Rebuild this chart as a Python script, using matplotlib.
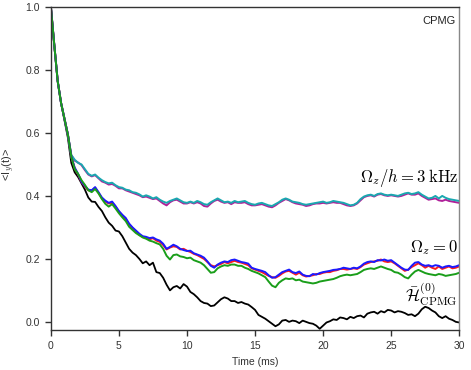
#!/usr/bin/env python3
import numpy as np
import matplotlib
matplotlib.use("Agg")
import matplotlib.pyplot as plt

plt.rcParams['font.family'] = ['Liberation Sans', 'DejaVu Sans']
plt.rcParams['mathtext.fontset'] = 'cm'

# ---------------------- data ----------------------
t_ms = np.arange(121) * 0.25  # 0 .. 30 ms

black = [1.000, 0.880, 0.765, 0.695, 0.640, 0.585, 0.505, 0.475, 0.460, 0.440,
         0.420, 0.395, 0.382, 0.381, 0.365, 0.352, 0.332, 0.315, 0.305, 0.290,
         0.287, 0.272, 0.252, 0.232, 0.220, 0.212, 0.200, 0.186, 0.192, 0.180,
         0.188, 0.158, 0.155, 0.140, 0.118, 0.100, 0.110, 0.114, 0.106, 0.120,
         0.112, 0.095, 0.088, 0.078, 0.066, 0.060, 0.058, 0.050, 0.052, 0.062,
         0.072, 0.078, 0.074, 0.066, 0.066, 0.060, 0.063, 0.058, 0.055, 0.047,
         0.038, 0.022, 0.016, 0.010, 0.002, -0.006, -0.014, -0.008, 0.004, 0.006,
         0.000, 0.004, 0.002, -0.004, 0.004, 0.000, -0.004, -0.006, -0.012, -0.022,
         -0.012, -0.002, 0.002, 0.008, 0.006, 0.014, 0.012, 0.008, 0.016, 0.012,
         0.018, 0.020, 0.014, 0.026, 0.030, 0.032, 0.026, 0.034, 0.030, 0.038,
         0.036, 0.030, 0.034, 0.032, 0.028, 0.022, 0.024, 0.018, 0.026, 0.040,
         0.048, 0.044, 0.036, 0.030, 0.018, 0.012, 0.018, 0.010, 0.006, 0.000,
         -0.002]

blue = [1.000, 0.880, 0.765, 0.695, 0.645, 0.595, 0.525, 0.490, 0.470, 0.445,
        0.432, 0.420, 0.418, 0.428, 0.412, 0.395, 0.385, 0.378, 0.382, 0.368,
        0.352, 0.340, 0.330, 0.312, 0.300, 0.290, 0.280, 0.272, 0.270, 0.266,
        0.268, 0.262, 0.258, 0.248, 0.232, 0.238, 0.245, 0.240, 0.232, 0.228,
        0.225, 0.226, 0.218, 0.214, 0.210, 0.204, 0.192, 0.178, 0.172, 0.182,
        0.188, 0.192, 0.190, 0.196, 0.198, 0.194, 0.190, 0.188, 0.185, 0.172,
        0.168, 0.165, 0.162, 0.158, 0.148, 0.140, 0.142, 0.150, 0.158, 0.162,
        0.166, 0.158, 0.155, 0.160, 0.150, 0.146, 0.145, 0.152, 0.150, 0.155,
        0.158, 0.160, 0.162, 0.165, 0.166, 0.168, 0.172, 0.170, 0.168, 0.172,
        0.170, 0.176, 0.185, 0.190, 0.192, 0.190, 0.196, 0.195, 0.198, 0.194,
        0.196, 0.188, 0.180, 0.172, 0.166, 0.165, 0.178, 0.188, 0.190, 0.182,
        0.178, 0.180, 0.176, 0.180, 0.178, 0.172, 0.176, 0.178, 0.174, 0.176,
        0.180]

red = [1.000, 0.880, 0.765, 0.695, 0.645, 0.595, 0.524, 0.488, 0.468, 0.444,
       0.430, 0.418, 0.416, 0.426, 0.410, 0.392, 0.382, 0.376, 0.378, 0.366,
       0.350, 0.338, 0.326, 0.310, 0.298, 0.288, 0.276, 0.270, 0.266, 0.262,
       0.266, 0.258, 0.254, 0.244, 0.230, 0.236, 0.240, 0.238, 0.230, 0.232,
       0.226, 0.222, 0.216, 0.212, 0.206, 0.200, 0.190, 0.180, 0.176, 0.180,
       0.184, 0.190, 0.186, 0.190, 0.194, 0.190, 0.188, 0.184, 0.180, 0.170,
       0.166, 0.162, 0.158, 0.152, 0.146, 0.142, 0.140, 0.146, 0.154, 0.160,
       0.162, 0.156, 0.150, 0.156, 0.148, 0.144, 0.146, 0.148, 0.152, 0.152,
       0.156, 0.158, 0.158, 0.162, 0.164, 0.168, 0.168, 0.166, 0.168, 0.170,
       0.168, 0.174, 0.182, 0.186, 0.190, 0.192, 0.194, 0.198, 0.192, 0.190,
       0.192, 0.186, 0.178, 0.170, 0.162, 0.166, 0.174, 0.180, 0.186, 0.180,
       0.172, 0.178, 0.172, 0.168, 0.176, 0.168, 0.172, 0.176, 0.170, 0.172,
       0.176]

green = [1.000, 0.880, 0.765, 0.695, 0.645, 0.595, 0.525, 0.485, 0.470, 0.450,
         0.435, 0.418, 0.412, 0.422, 0.408, 0.390, 0.375, 0.366, 0.374, 0.360,
         0.345, 0.332, 0.320, 0.302, 0.292, 0.282, 0.275, 0.268, 0.264, 0.258,
         0.255, 0.250, 0.246, 0.232, 0.210, 0.198, 0.212, 0.214, 0.208, 0.206,
         0.202, 0.204, 0.196, 0.192, 0.188, 0.180, 0.168, 0.156, 0.158, 0.170,
         0.176, 0.180, 0.178, 0.182, 0.182, 0.178, 0.178, 0.172, 0.168, 0.162,
         0.158, 0.154, 0.148, 0.142, 0.128, 0.115, 0.110, 0.124, 0.132, 0.138,
         0.136, 0.138, 0.132, 0.134, 0.128, 0.126, 0.124, 0.122, 0.124, 0.128,
         0.130, 0.132, 0.134, 0.136, 0.140, 0.145, 0.148, 0.150, 0.148, 0.150,
         0.152, 0.158, 0.165, 0.168, 0.170, 0.168, 0.172, 0.176, 0.172, 0.168,
         0.165, 0.158, 0.156, 0.150, 0.142, 0.138, 0.150, 0.160, 0.165, 0.160,
         0.155, 0.152, 0.150, 0.148, 0.152, 0.150, 0.146, 0.148, 0.150, 0.152,
         0.156]

cyan = [1.000, 0.880, 0.765, 0.695, 0.645, 0.595, 0.530, 0.515, 0.505, 0.500,
        0.485, 0.470, 0.464, 0.468, 0.458, 0.450, 0.444, 0.440, 0.442, 0.434,
        0.428, 0.426, 0.420, 0.418, 0.412, 0.410, 0.405, 0.398, 0.402, 0.398,
        0.392, 0.396, 0.388, 0.382, 0.378, 0.384, 0.388, 0.392, 0.386, 0.380,
        0.378, 0.382, 0.378, 0.384, 0.380, 0.374, 0.372, 0.380, 0.386, 0.392,
        0.386, 0.380, 0.382, 0.378, 0.384, 0.380, 0.382, 0.384, 0.378, 0.374,
        0.372, 0.376, 0.378, 0.374, 0.370, 0.368, 0.374, 0.380, 0.388, 0.392,
        0.388, 0.382, 0.380, 0.378, 0.374, 0.372, 0.374, 0.376, 0.378, 0.380,
        0.382, 0.378, 0.380, 0.384, 0.382, 0.380, 0.378, 0.374, 0.370, 0.372,
        0.378, 0.390, 0.398, 0.402, 0.404, 0.400, 0.406, 0.408, 0.404, 0.402,
        0.404, 0.402, 0.400, 0.404, 0.408, 0.410, 0.406, 0.408, 0.412, 0.404,
        0.398, 0.392, 0.394, 0.400, 0.392, 0.400, 0.394, 0.390, 0.388, 0.386,
        0.384]

magenta = [1.000, 0.880, 0.765, 0.695, 0.645, 0.595, 0.530, 0.512, 0.506, 0.498,
           0.482, 0.468, 0.462, 0.466, 0.456, 0.446, 0.442, 0.436, 0.438, 0.432,
           0.424, 0.424, 0.418, 0.414, 0.410, 0.406, 0.402, 0.396, 0.398, 0.394,
           0.390, 0.392, 0.384, 0.376, 0.370, 0.380, 0.386, 0.388, 0.382, 0.376,
           0.376, 0.380, 0.376, 0.380, 0.376, 0.368, 0.366, 0.376, 0.384, 0.388,
           0.382, 0.378, 0.380, 0.374, 0.380, 0.378, 0.378, 0.380, 0.374, 0.370,
           0.370, 0.372, 0.374, 0.370, 0.366, 0.364, 0.370, 0.378, 0.384, 0.390,
           0.386, 0.380, 0.376, 0.374, 0.372, 0.368, 0.370, 0.374, 0.376, 0.376,
           0.378, 0.376, 0.378, 0.380, 0.378, 0.378, 0.374, 0.370, 0.368, 0.370,
           0.376, 0.386, 0.396, 0.400, 0.402, 0.398, 0.404, 0.406, 0.402, 0.400,
           0.402, 0.400, 0.398, 0.400, 0.404, 0.408, 0.404, 0.404, 0.408, 0.400,
           0.394, 0.388, 0.390, 0.392, 0.386, 0.384, 0.388, 0.384, 0.382, 0.380,
           0.378]

x_ticks = [0, 5, 10, 15, 20, 25, 30]
y_ticks = [0.0, 0.2, 0.4, 0.6, 0.8, 1.0]
# -----------------------------------------------------------------------

fig = plt.figure(figsize=(4.71, 3.70), dpi=100)
ax = fig.add_axes([0.108, 0.108, 0.867, 0.873])

lw = 1.4
ax.plot(t_ms, black, color='black', lw=1.3)
ax.plot(t_ms, magenta, color='#b0209a', lw=lw)
ax.plot(t_ms, cyan, color='#1aa8b0', lw=lw)
ax.plot(t_ms, red, color='#ff1a1a', lw=lw)
ax.plot(t_ms, blue, color='#1a1aff', lw=lw)
ax.plot(t_ms, green, color='#1a9e1a', lw=lw)

ax.set_xlim(0, 30)
ax.set_ylim(-0.026, 1.0)
ax.set_xticks(x_ticks)
ax.set_yticks(y_ticks)
ax.set_xticklabels([str(v) for v in x_ticks])
ax.set_yticklabels([f"{v:.1f}" for v in y_ticks])
ax.tick_params(direction='out', length=4, width=1, labelsize=7.5,
               colors='#333333', pad=4)
for s in ax.spines.values():
    s.set_color('#333333')
    s.set_linewidth(1.0)
ax.spines['right'].set_color('#888888')

ax.set_xlabel("Time (ms)", fontsize=7.5, color='#333333', labelpad=4)
# y label placed by hand so it stays inside the figure
fig.text(0.019, 0.555, "<I$_y$(t)>", rotation=90, ha='center', va='center',
         fontsize=8, color='#333333')

ax.text(0.99, 0.972, "CPMG", transform=ax.transAxes, ha='right', va='top',
        fontsize=8, color='#222222')
ax.text(29.9, 0.457, r'$\Omega_z/h = 3\;\mathrm{kHz}$', ha='right', va='center',
        fontsize=12)
ax.text(29.9, 0.236, r'$\Omega_z = 0$', ha='right', va='center', fontsize=12)
ax.text(29.9, 0.088, r'$\bar{\mathcal{H}}^{(0)}_{\mathrm{CPMG}}$', ha='right',
        va='center', fontsize=12)

fig.savefig("out.png", dpi=100)
